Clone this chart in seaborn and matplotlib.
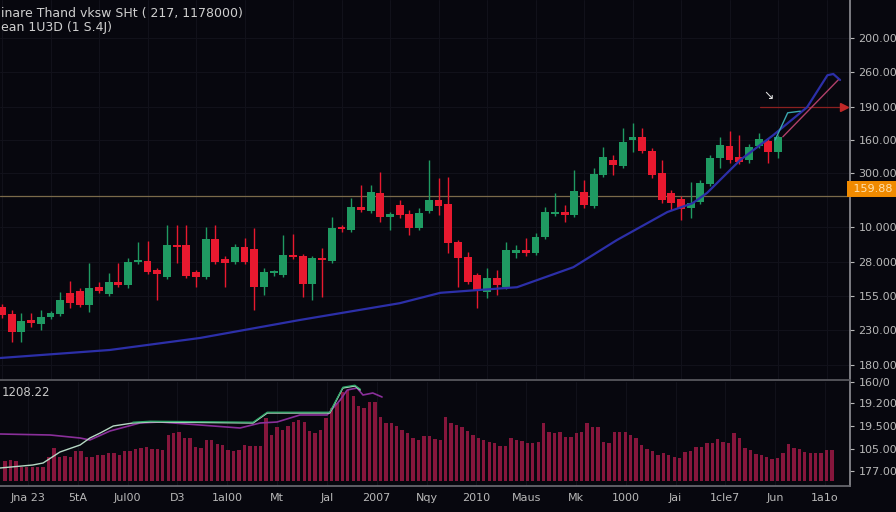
import numpy as np
import pandas as pd
import seaborn as sns
from matplotlib import pyplot as plt

# candle data (open, high, low, close)
opens = [123.2, 121.5, 117.0, 120.0, 119.0, 120.8, 121.5, 126.8, 127.2, 123.8,
         128.2, 126.5, 129.5, 128.8, 134.5, 134.8, 132.5, 130.8, 138.8, 138.8,
         132.0, 130.8, 140.2, 135.2, 134.5, 138.2, 137.8, 128.2, 131.8, 131.2,
         136.2, 136.0, 129.0, 135.5, 134.8, 143.0, 142.5, 148.2, 147.2, 151.8,
         145.8, 148.8, 146.5, 143.0, 147.2, 150.0, 149.0, 139.5, 135.8, 131.2,
         127.0, 130.5, 128.2, 136.8, 137.5, 136.8, 140.8, 146.5, 147.0, 146.2,
         152.0, 148.5, 156.2, 160.0, 158.5, 165.0, 165.8, 162.2, 156.8, 151.8,
         150.2, 148.0, 149.5, 154.0, 160.5, 163.5, 160.8, 160.0, 163.5, 164.8,
         162.0]
highs = [124.0, 122.5, 121.8, 121.8, 122.5, 122.2, 127.0, 129.8, 128.0, 134.2,
         129.5, 131.8, 134.2, 135.5, 139.5, 139.8, 133.0, 143.8, 143.8, 143.8,
         132.5, 143.2, 143.8, 136.0, 139.0, 140.5, 143.0, 133.0, 132.5, 141.2,
         141.5, 136.5, 136.0, 138.0, 145.8, 143.8, 150.5, 153.8, 153.8, 157.0,
         147.0, 150.0, 147.5, 148.0, 160.0, 155.5, 155.8, 140.0, 137.0, 131.8,
         133.0, 132.5, 139.5, 138.8, 140.5, 141.8, 148.2, 151.8, 148.8, 157.5,
         155.0, 158.0, 163.2, 161.2, 168.0, 169.2, 168.0, 163.0, 160.0, 152.5,
         151.0, 154.5, 155.0, 161.2, 165.8, 167.2, 166.2, 164.0, 166.8, 165.5,
         166.2]
lows = [120.5, 114.5, 114.5, 118.2, 117.5, 120.2, 121.0, 123.0, 123.2, 122.0,
        126.8, 126.0, 128.2, 128.0, 134.0, 131.5, 125.0, 130.2, 134.2, 130.5,
        128.2, 130.2, 134.0, 128.2, 134.0, 134.0, 122.5, 126.2, 131.0, 130.8,
        135.2, 125.8, 125.0, 125.8, 134.2, 142.0, 142.0, 147.0, 146.8, 144.5,
        142.5, 145.5, 141.2, 142.5, 146.8, 146.2, 136.8, 128.2, 129.0, 123.0,
        125.5, 126.2, 127.8, 135.5, 136.0, 136.2, 140.2, 146.0, 144.5, 145.8,
        148.0, 148.0, 155.8, 156.2, 158.0, 162.0, 161.8, 155.5, 149.2, 147.5,
        145.0, 145.5, 149.0, 153.5, 158.0, 159.2, 159.0, 159.2, 163.0, 159.2,
        160.5]
closes = [121.2, 117.0, 119.8, 119.2, 120.8, 121.8, 125.0, 124.2, 123.8, 128.0,
          127.2, 129.5, 128.8, 134.5, 135.0, 132.0, 131.5, 138.8, 138.2, 131.0,
          130.8, 140.2, 134.5, 134.2, 138.2, 134.5, 128.2, 132.0, 132.0, 136.2,
          135.8, 129.0, 135.5, 135.0, 143.0, 142.8, 148.2, 147.5, 152.0, 145.8,
          146.5, 146.2, 143.0, 146.8, 150.0, 148.5, 139.2, 135.5, 129.5, 127.5,
          130.5, 128.8, 137.5, 137.5, 136.8, 140.8, 147.0, 147.0, 146.2, 152.2,
          148.8, 156.5, 160.8, 158.8, 164.5, 165.8, 162.2, 156.2, 150.0, 149.2,
          147.8, 149.2, 154.2, 160.5, 163.8, 160.0, 159.5, 163.2, 165.2, 162.0,
          165.8]

# moving average (blue) and the short end lines
ma_idx = [-0.2, 11.1, 20.4, 30.7, 41.0, 45.2, 53.1, 58.9, 63.4, 68.6, 71.2, 72.7, 76.1, 79.5, 83.0, 85.1, 85.7, 86.4]
ma_val = [110.5, 112.5, 115.5, 120.0, 124.2, 126.8, 128.2, 133.2, 140.0, 147.0, 149.2, 151.8, 160.0, 166.2, 173.2, 181.2, 181.5, 180.0]
cyan_idx = [79.7, 81.0, 82.3]
cyan_val = [165.0, 171.8, 172.2]
pink_idx = [80.5, 86.2]
pink_val = [165.8, 180.0]
last_line = 151.0
red_level = 173.2

# volume panel
volume = [20, 21, 20, 14, 14, 14, 14, 14, 24, 33, 24, 25, 24, 30, 30, 24, 24, 26, 26, 28,
          28, 26, 30, 30, 32, 33, 34, 32, 32, 31, 46, 48, 49, 43, 43, 34, 33, 41, 41,
          37, 36, 31, 30, 31, 36, 35, 35, 35, 63, 46, 54, 51, 55, 59, 61, 59, 50, 48, 51,
          63, 73, 78, 89, 91, 85, 75, 73, 79, 79, 64, 58, 58, 55, 51, 48, 43, 41,
          45, 45, 42, 41, 64, 58, 56, 54, 50, 46, 43, 41, 39, 38, 35, 35, 43, 41, 40, 38,
          38, 39, 58, 49, 48, 49, 44, 44, 48, 49, 58, 54, 54, 39, 38, 49, 49, 49, 46, 43,
          36, 32, 30, 26, 28, 26, 24, 23, 29, 30, 34, 34, 38, 38, 42, 39, 38, 48, 43, 33,
          31, 27, 26, 24, 22, 23, 28, 37, 33, 32, 29, 28, 28, 28, 31, 31]
purple_idx = [-0.9, 8.3, 13.8, 15.6, 19.3, 24.8, 28.5, 35.8, 43.2, 46.9, 50.0, 54.2, 59.2, 61.6, 62.9, 64.7, 65.8, 67.6, 69.3]
purple_val = [47, 46, 43, 41, 50, 58, 59, 56, 53, 58, 59, 66, 66, 81, 91, 93, 86, 88, 84]
pale_idx = [-0.9, 5.1, 7.0, 10.1, 13.8, 15.6, 17.5, 19.9, 23.5, 26.7, 45.6, 48.2, 54.2, 59.7, 62.1, 64.3, 65.3]
pale_val = [13, 16, 18, 29, 36, 43, 48, 55, 58, 59, 58, 68, 68, 68, 93, 95, 91]

price_ticks = [190.5, 182.0, 173.25, 165.0, 156.75, 143.25, 134.5, 126.0, 117.5, 108.75]
price_labels = ['200.00', '260.00', '190.00', '160.00', '300.00', '10.000', '28.000', '155.00', '230.00', '180.00']
vol_ticks = [99, 78, 55, 32, 10]
vol_labels = ['160/0', '19.200', '19.500', '105.00', '177.00']
date_labels = ['Jna 23', '5tA', 'Jul00', 'D3', '1al00', 'Mt', 'Jal', '2007', 'Nqy',
               '2010', 'Maus', 'Mk', '1000', 'Jai', '1cle7', 'Jun', '1a1o']

bg = '#07070e'
sns.set_theme(style='dark', rc={'axes.facecolor': bg, 'figure.facecolor': bg,
                                'axes.edgecolor': '#6a6a70', 'text.color': '#c8c8c8',
                                'xtick.color': '#b8b8b8', 'ytick.color': '#b8b8b8'})
plt.rcParams['font.family'] = ['DejaVu Sans']

df = pd.DataFrame({'open': opens, 'high': highs, 'low': lows, 'close': closes})
df['idx'] = np.arange(len(df))
df['up'] = df['close'] >= df['open']

fig = plt.figure(figsize=(8.96, 5.12), dpi=100)
W = 850 / 896
ax = fig.add_axes([0, 1 - 380 / 512, W, 380 / 512])
axv = fig.add_axes([0, 1 - 486 / 512, W, 104 / 512])

# ---- price panel
step = 9.7
ax.set_xlim(-2 / step, 848 / step)
ax.set_ylim(105, 200)
for t in price_ticks:
    ax.axhline(t, color='#11111a', lw=0.8, zorder=0)
for k in range(0, 90, 5):
    ax.axvline(k, color='#11111a', lw=0.8, zorder=0)

green, red = '#1f9a62', '#e8192f'
cols = np.where(df['up'], green, red)
ax.vlines(df['idx'], df['low'], df['high'], colors=cols, lw=1.0, zorder=2)
body_lo = np.minimum(df['open'], df['close'])
body_h = np.maximum(np.abs(df['close'] - df['open']), 0.5)
ax.bar(df['idx'], body_h, bottom=body_lo, width=0.82, color=cols, edgecolor='none',
       linewidth=0, zorder=3)

ax.axhline(last_line, color='#7a6a4a', lw=0.9, zorder=1)
sns.lineplot(x=ma_idx, y=ma_val, ax=ax, color='#2c2fa8', lw=1.6, zorder=4)
sns.lineplot(x=cyan_idx, y=cyan_val, ax=ax, color='#3aa7b0', lw=1.0, zorder=4)
sns.lineplot(x=pink_idx, y=pink_val, ax=ax, color='#b0406a', lw=1.0, zorder=4)
ax.plot([78.1, 86.8], [red_level, red_level], color='#8a2020', lw=0.9, zorder=3)
ax.plot([86.8], [red_level], marker='>', color='#c02828', ms=6, zorder=4)
ax.text(79.0, 176.0, '\u2198', color='#e0e0e0', fontsize=9, ha='center', va='center')

ax.yaxis.tick_right()
ax.set_yticks(price_ticks, price_labels)
ax.tick_params(axis='y', length=3, width=0.8, pad=3, labelsize=8, colors='#b8b8b8')
ax.set_xticks([])
for s in ['top', 'left']:
    ax.spines[s].set_visible(False)
ax.spines['right'].set_color('#8a8a90')
ax.spines['bottom'].set_color('#5a5a60')

# price tag
ax.text(1.0, (152.75 - 105) / 95, ' 159.88 ', transform=ax.transAxes, ha='left', va='center',
        fontsize=8, color='#ffe2b0',
        bbox=dict(boxstyle='square,pad=0.3', fc='#f08a00', ec='none'), clip_on=False)

# ---- volume panel
n = len(volume)
vstep = 827 / (n - 1)
vx = np.arange(n)
axv.set_xlim(-5 / vstep, 845 / vstep)
axv.set_ylim(-5, 99)
xt = np.linspace((28 - 5) / vstep, (825 - 5) / vstep, len(date_labels))
for t in xt:
    axv.axvline(t, color='#11111a', lw=0.8, zorder=0)
axv.bar(vx, volume, width=0.62, color='#86163c', edgecolor='none', linewidth=0, zorder=2)
sns.lineplot(x=purple_idx, y=purple_val, ax=axv, color='#8a2f9a', lw=1.2, zorder=3)
sns.lineplot(x=pale_idx, y=pale_val, ax=axv, color='#b6d8c4', lw=1.0, zorder=4)
sns.lineplot(x=pale_idx[8:], y=[v + 0.8 for v in pale_val[8:]], ax=axv, color='#2fa86a', lw=0.9, zorder=4)
axv.text(0.002, 0.9, '1208.22', transform=axv.transAxes, fontsize=8.5, color='#c8c8c8', va='center')

axv.yaxis.tick_right()
axv.set_yticks(vol_ticks, vol_labels)
axv.tick_params(axis='y', length=3, width=0.8, pad=3, labelsize=8, colors='#b8b8b8')
axv.set_xticks(xt, date_labels)
axv.tick_params(axis='x', length=0, pad=5, labelsize=8, colors='#b8b8b8')
axv.spines['top'].set_visible(False)
axv.spines['left'].set_visible(False)
axv.spines['right'].set_color('#8a8a90')
axv.spines['bottom'].set_color('#6a6a70')

fig.text(0.001, 1 - 13 / 512, 'inare Thand vksw SHt ( 217, 1178000)', fontsize=9,
         color='#cfcfcf', va='center')
fig.text(0.001, 1 - 27 / 512, 'ean 1U3D (1 S.4J)', fontsize=9, color='#cfcfcf', va='center')

fig.savefig('out.png', dpi=100, facecolor=bg)
